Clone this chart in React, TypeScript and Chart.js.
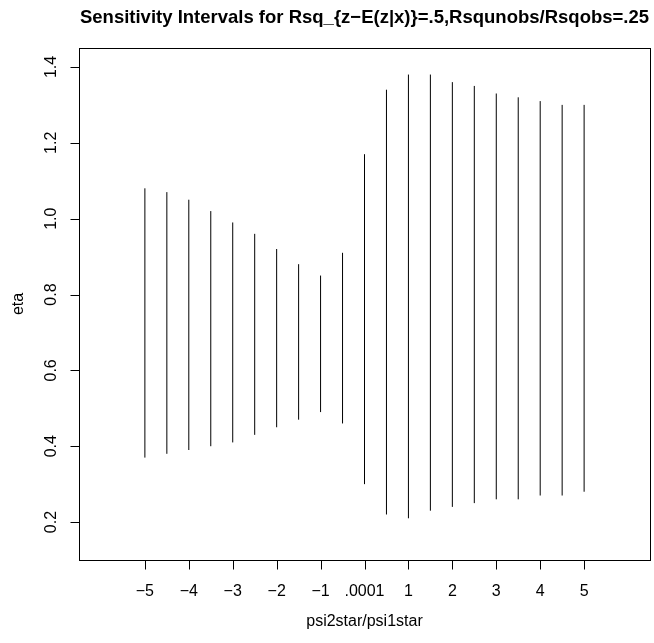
import React, { useEffect, useRef } from "react";
import { Chart, registerables } from "chart.js";

Chart.register(...registerables);

const TITLE = "Sensitivity Intervals for Rsq_{z\u2212E(z|x)}=.5,Rsqunobs/Rsqobs=.25";
const X_LABEL = "psi2star/psi1star";
const Y_LABEL = "eta";

// psi2star/psi1star positions of the intervals
const psiRatios = [-5, -4.5, -4, -3.5, -3, -2.5, -2, -1.5, -1, -0.5, 0, 0.5, 1, 1.5, 2, 2.5, 3, 3.5, 4, 4.5, 5];
// lower and upper ends of each sensitivity interval (eta)
const etaLower = [0.37, 0.38, 0.39, 0.40, 0.41, 0.43, 0.45, 0.47, 0.49, 0.46, 0.30, 0.22, 0.21, 0.23, 0.24, 0.25, 0.26, 0.26, 0.27, 0.27, 0.28];
const etaUpper = [1.08, 1.07, 1.05, 1.02, 0.99, 0.96, 0.92, 0.88, 0.85, 0.91, 1.17, 1.34, 1.38, 1.38, 1.36, 1.35, 1.33, 1.32, 1.31, 1.30, 1.30];

const xTickValues = [-5, -4, -3, -2, -1, 0, 1, 2, 3, 4, 5];
const xTickLabels = ["\u22125", "\u22124", "\u22123", "\u22122", "\u22121", ".0001", "1", "2", "3", "4", "5"];
const yTickValues = [0.2, 0.4, 0.6, 0.8, 1.0, 1.2, 1.4];
const yTickLabels = ["0.2", "0.4", "0.6", "0.8", "1.0", "1.2", "1.4"];

const FONT = "'Liberation Sans', Arial, Helvetica, sans-serif";

const rFramePlugin = {
  id: "rFrame",
  afterDraw(chart: any) {
    const { ctx, chartArea, scales } = chart;
    const xs = scales.x;
    const ys = scales.y;
    const L = chartArea.left, R = chartArea.right, T = chartArea.top, B = chartArea.bottom;
    ctx.save();
    ctx.strokeStyle = "#000";
    ctx.lineWidth = 1;
    // box
    ctx.strokeRect(Math.round(L) + 0.5, Math.round(T) + 0.5, Math.round(R - L), Math.round(B - T));

    // x axis
    const by = Math.round(B) + 0.5;
    const x0 = xs.getPixelForValue(xTickValues[0]);
    const x1 = xs.getPixelForValue(xTickValues[xTickValues.length - 1]);
    ctx.beginPath();
    ctx.moveTo(Math.round(x0) + 0.5, by);
    ctx.lineTo(Math.round(x1) + 0.5, by);
    xTickValues.forEach((v) => {
      const px = Math.round(xs.getPixelForValue(v)) + 0.5;
      ctx.moveTo(px, by);
      ctx.lineTo(px, by + 9);
    });
    ctx.stroke();

    ctx.fillStyle = "#000";
    ctx.font = `16px ${FONT}`;
    ctx.textAlign = "center";
    ctx.textBaseline = "middle";
    xTickValues.forEach((v, i) => {
      ctx.fillText(xTickLabels[i], xs.getPixelForValue(v), B + 32);
    });
    ctx.fillText(X_LABEL, (L + R) / 2, B + 62);

    // y axis
    const lx = Math.round(L) + 0.5;
    const y0 = ys.getPixelForValue(yTickValues[0]);
    const y1 = ys.getPixelForValue(yTickValues[yTickValues.length - 1]);
    ctx.beginPath();
    ctx.moveTo(lx, Math.round(y0) + 0.5);
    ctx.lineTo(lx, Math.round(y1) + 0.5);
    yTickValues.forEach((v) => {
      const py = Math.round(ys.getPixelForValue(v)) + 0.5;
      ctx.moveTo(lx, py);
      ctx.lineTo(lx - 9, py);
    });
    ctx.stroke();

    yTickValues.forEach((v, i) => {
      ctx.save();
      ctx.translate(L - 27, ys.getPixelForValue(v));
      ctx.rotate(-Math.PI / 2);
      ctx.fillText(yTickLabels[i], 0, 0);
      ctx.restore();
    });
    ctx.save();
    ctx.translate(L - 60, (T + B) / 2);
    ctx.rotate(-Math.PI / 2);
    ctx.fillText(Y_LABEL, 0, 0);
    ctx.restore();

    // title
    ctx.font = `bold 18.5px ${FONT}`;
    ctx.textBaseline = "alphabetic";
    ctx.fillText(TITLE, (L + R) / 2, 23);
    ctx.restore();
  },
};

export default function App() {
  const canvasRef = useRef<HTMLCanvasElement | null>(null);

  useEffect(() => {
    const canvas = canvasRef.current;
    if (!canvas) return;
    const datasets = psiRatios.map((x, i) => ({
      data: [
        { x, y: etaLower[i] },
        { x, y: etaUpper[i] },
      ],
      showLine: true,
      borderColor: "#000",
      borderWidth: 1,
      pointRadius: 0,
      pointHoverRadius: 0,
      fill: false,
    }));
    const chart = new Chart(canvas, {
      type: "scatter",
      data: { datasets },
      options: {
        animation: false,
        responsive: false,
        devicePixelRatio: 1,
        layout: { padding: { left: 79, right: 4, top: 48, bottom: 83 } },
        plugins: {
          legend: { display: false },
          tooltip: { enabled: false },
          title: { display: false },
        },
        scales: {
          x: { type: "linear", min: -6.5, max: 6.5, display: false },
          y: { type: "linear", min: 0.1, max: 1.45, display: false },
        },
      },
      plugins: [rFramePlugin],
    });
    return () => chart.destroy();
  }, []);

  return (
    <div style={{ position: "absolute", left: 0, top: 0, width: 654, height: 643, background: "#fff" }}>
      <canvas ref={canvasRef} width={654} height={643} style={{ display: "block" }} />
    </div>
  );
}
